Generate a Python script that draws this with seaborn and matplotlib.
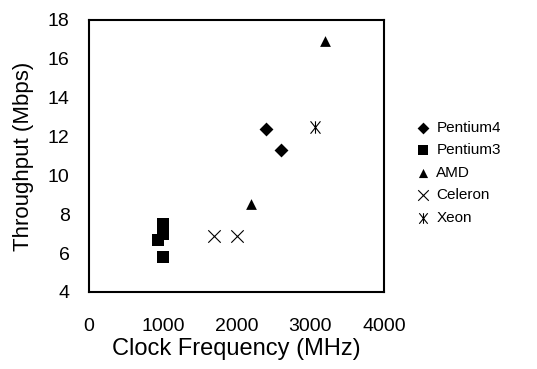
import matplotlib
matplotlib.use("Agg")
import matplotlib.pyplot as plt
from matplotlib.path import Path
import seaborn as sns
import pandas as pd

# data
p4_clock = [2400, 2600]
p4_thru = [12.4, 11.3]
p3_clock = [1000, 1000, 933, 1000]
p3_thru = [7.5, 7.0, 6.65, 5.8]
amd_clock = [3200, 2200]
amd_thru = [16.9, 8.5]
cel_clock = [1700, 2000]
cel_thru = [6.9, 6.9]
xeon_clock = [3060]
xeon_thru = [12.5]

series = ["Pentium4", "Pentium3", "AMD", "Celeron", "Xeon"]
clocks = [p4_clock, p3_clock, amd_clock, cel_clock, xeon_clock]
thrus = [p4_thru, p3_thru, amd_thru, cel_thru, xeon_thru]

rows = []
for name, xs, ys in zip(series, clocks, thrus):
    for x, y in zip(xs, ys):
        rows.append({"clock": x, "thru": y, "cpu": name})
df = pd.DataFrame(rows)

sns.set_style("white")
plt.rcParams["font.family"] = ["Liberation Sans", "DejaVu Sans"]
for key in ("text.color", "axes.labelcolor", "xtick.color", "ytick.color"):
    plt.rcParams[key] = "black"

fig = plt.figure(figsize=(5.37, 3.69), dpi=100)
ax = fig.add_axes([0.166, 0.209, 0.549, 0.737])

# asterisk like excel: an X with a vertical bar through it
star = Path([(-0.8, -1), (0.8, 1), (-0.8, 1), (0.8, -1), (0, -1), (0, 1)],
            [Path.MOVETO, Path.LINETO, Path.MOVETO, Path.LINETO, Path.MOVETO, Path.LINETO])

markers = {"Pentium4": "D", "Pentium3": "s", "AMD": "^", "Celeron": "x", "Xeon": star}
sizes = {"Pentium4": 50, "Pentium3": 80, "AMD": 60, "Celeron": 80, "Xeon": 80}

for name in series:
    sub = df[df["cpu"] == name]
    sns.scatterplot(data=sub, x="clock", y="thru", marker=markers[name],
                    s=sizes[name], color="black", edgecolor="black",
                    linewidth=0.8 if name in ("Celeron", "Xeon") else 0,
                    label=name, ax=ax)

ax.set_xlim(0, 4000)
ax.set_ylim(4, 18)
ax.set_xticks([0, 1000, 2000, 3000, 4000])
ax.set_yticks(range(4, 19, 2))
ax.tick_params(axis="x", length=0, pad=19, labelsize=14)
ax.tick_params(axis="y", length=0, pad=14, labelsize=14)
ax.set_xlabel("Clock Frequency (MHz)", fontsize=17, labelpad=2)
ax.set_ylabel("Throughput (Mbps)", fontsize=16, labelpad=10)

for sp in ax.spines.values():
    sp.set_color("black")
    sp.set_linewidth(1.5)

sns.move_legend(ax, "center left", bbox_to_anchor=(1.105, 0.4375), frameon=False,
                title=None, fontsize=11, handlelength=1.0, handletextpad=0.4,
                labelspacing=0.55, borderpad=0, borderaxespad=0, markerscale=0.85)

fig.savefig("out.png", dpi=100)
